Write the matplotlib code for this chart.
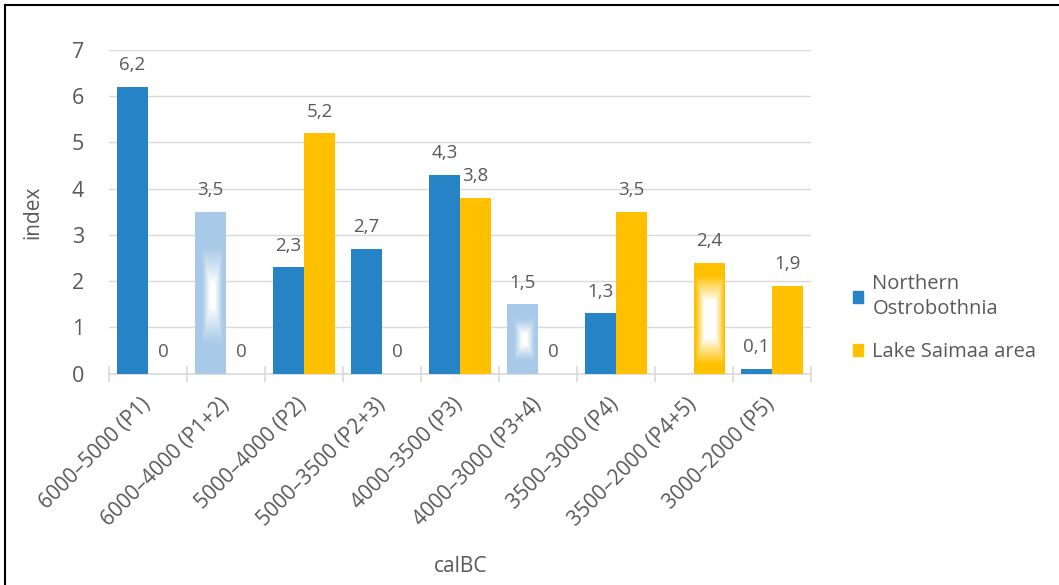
import numpy as np
import matplotlib
matplotlib.use("Agg")
import matplotlib.pyplot as plt
from matplotlib.lines import Line2D

categories = ["6000–5000 (P1)", "6000–4000 (P1+2)", "5000–4000 (P2)", "5000–3500 (P2+3)",
              "4000–3500 (P3)", "4000–3000 (P3+4)", "3500–3000 (P4)", "3500–2000 (P4+5)",
              "3000–2000 (P5)"]
northern = [6.2, 3.5, 2.3, 2.7, 4.3, 1.5, 1.3, np.nan, 0.1]
saimaa = [0, 0, 5.2, 0, 3.8, 0, 3.5, 2.4, 1.9]
series_names = ["Northern\nOstrobothnia", "Lake Saimaa area"]
yticks = [0, 1, 2, 3, 4, 5, 6, 7]
# bars drawn with a white glow (transitional periods)
glow_northern = [False, True, False, False, False, True, False, False, False]
glow_saimaa = [False, False, False, False, False, False, False, True, False]

BLUE = "#2683C6"
LIGHTBLUE = "#A8C9E7"
ORANGE = "#FFC000"
GRAY = "#595959"
GRID = "#D9D9D9"
FONT = ["Open Sans", "DejaVu Sans"]
plt.rcParams["font.family"] = FONT

fig = plt.figure(figsize=(10.59, 5.85), dpi=100)
ax = fig.add_axes([109 / 1059, 1 - 373.5 / 585, (811 - 109) / 1059, (373.5 - 50) / 585])

x = np.arange(len(categories))
w = 0.40
nb_colors = [LIGHTBLUE if g else BLUE for g in glow_northern]
b1 = ax.bar(x - w / 2, np.nan_to_num(northern), w, color=nb_colors, label=series_names[0], zorder=3)
b2 = ax.bar(x + w / 2, saimaa, w, color=ORANGE, label=series_names[1], zorder=3)


def add_glow(rect, cx=0.5, cy=0.47, hx=0.36, hy=0.36, strength=1.6, gamma=1.0):
    x0 = rect.get_x()
    bw = rect.get_width()
    bh = rect.get_height()
    ny, nx = 240, 80
    yy, xx = np.mgrid[0:1:ny * 1j, 0:1:nx * 1j]
    d = np.maximum(np.abs(xx - cx) / hx, np.abs(yy - cy) / hy)
    a = np.clip((1 - d) * strength, 0, 1) ** gamma
    img = np.ones((ny, nx, 4))
    img[..., 3] = a
    im = ax.imshow(img, extent=(x0, x0 + bw, 0, bh), origin="lower", aspect="auto",
                   zorder=3.5, interpolation="bilinear")
    im.set_clip_path(rect)


for i, g in enumerate(glow_northern):
    if g:
        add_glow(b1.patches[i], cx=0.55, cy=0.48, hx=0.34, hy=0.31, strength=1.3, gamma=1.2)
for i, g in enumerate(glow_saimaa):
    if g:
        add_glow(b2.patches[i], cx=0.5, cy=0.48, hx=0.45, hy=0.40, strength=1.7)


def fmt(v):
    if v is None or (isinstance(v, float) and np.isnan(v)):
        return ""
    if v == 0:
        return "0"
    return f"{v:.1f}".replace(".", ",")


ax.bar_label(b1, labels=[fmt(v) for v in northern], padding=9, color=GRAY, fontsize=13.5)
ax.bar_label(b2, labels=[fmt(v) for v in saimaa], padding=9, color=GRAY, fontsize=13.5)

ax.set_xlim(-0.5, len(categories) - 0.5)
ax.set_ylim(0, 7)
ax.set_yticks(yticks)
ax.set_yticklabels([str(t) for t in yticks])
ax.yaxis.grid(True, color=GRID, linewidth=1.0, zorder=0)
ax.set_axisbelow(True)

ax.set_xticks(x)
ax.set_xticklabels(categories, rotation=45, ha="right", va="center", rotation_mode="anchor")
ax.set_xticks(np.arange(len(categories) + 1) - 0.5, minor=True)
ax.tick_params(axis="x", which="major", length=0, pad=20, labelsize=15, labelcolor=GRAY)
ax.tick_params(axis="x", which="minor", length=11, direction="inout", color=GRID, width=1.2)
ax.tick_params(axis="y", length=0, pad=18, labelsize=15.5, labelcolor=GRAY)

for s in ["top", "right", "left"]:
    ax.spines[s].set_visible(False)
ax.spines["bottom"].set_color(GRID)
ax.spines["bottom"].set_linewidth(1.2)

fig.text(33 / 1059, 1 - 212 / 585, "index", rotation=90, ha="center", va="center",
         fontsize=15, color=GRAY)
fig.text(461 / 1059, 1 - 566 / 585, "calBC", ha="center", va="center", fontsize=15, color=GRAY)

handles = [plt.Rectangle((0, 0), 1, 1, color=BLUE), plt.Rectangle((0, 0), 1, 1, color=ORANGE)]
leg = ax.legend(handles, series_names, loc="center left", bbox_to_anchor=(835 / 1059, 1 - 318 / 585),
                bbox_transform=fig.transFigure, frameon=False, fontsize=14.5,
                handlelength=0.5, handleheight=0.55, handletextpad=0.45, labelspacing=1.15)
for t in leg.get_texts():
    t.set_color(GRAY)
    t.set_linespacing(1.35)

# outer border
fig.add_artist(Line2D([4.5 / 1059, 1], [1 - 4.5 / 585, 1 - 4.5 / 585], transform=fig.transFigure,
                      color="black", linewidth=1.5))
fig.add_artist(Line2D([4.5 / 1059, 4.5 / 1059], [0, 1 - 4.5 / 585], transform=fig.transFigure,
                      color="black", linewidth=1.5))

fig.savefig("out.png", dpi=100)
